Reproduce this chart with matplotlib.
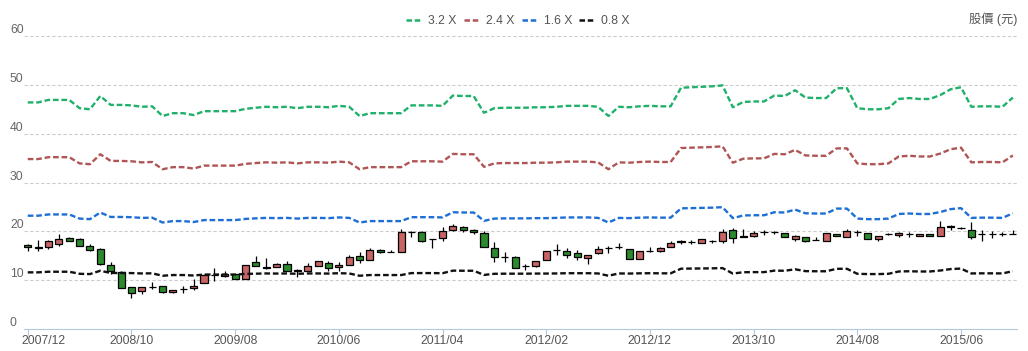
import numpy as np
import pandas as pd
import matplotlib.pyplot as plt
import matplotlib.transforms as mtransforms
from matplotlib.lines import Line2D

plt.rcParams['font.family'] = ['Liberation Sans', 'Noto Sans CJK TC', 'DejaVu Sans']

# monthly candles, 2007/12 - 2015/11
months = [p.strftime('%Y/%m') for p in pd.period_range('2007-12', periods=96, freq='M')]

opens = [17.1, 16.7, 16.7, 17.5, 18.6, 18.5, 16.9, 16.3, 13.05, 11.7,
         8.66, 7.72, 8.6, 8.74, 7.52, 8.15, 8.33, 9.35, 11.15, 10.9,
         11.26, 10.2, 13.65, 12.6, 12.64, 13.3, 12.1, 11.8, 12.84, 13.5,
         12.6, 13.05, 14.9, 14.2, 16.2, 15.8, 15.7, 19.9, 19.8, 18.45,
         18.6, 20.3, 20.95, 20.3, 19.7, 16.65, 14.75, 14.7, 12.95, 12.96,
         14.1, 16.25, 16.0, 15.55, 14.6, 15.5, 16.55, 16.75, 16.3, 14.4,
         16.05, 16.0, 16.7, 17.95, 17.8, 17.55, 18.1, 18.1, 20.2, 18.95,
         19.0, 19.9, 19.9, 19.7, 18.5, 18.9, 18.2, 18.1, 19.5, 18.9,
         19.9, 19.6, 18.4, 19.55, 19.2, 19.45, 19.05, 19.45, 19.0, 21.0,
         20.65, 20.3, 19.5, 19.45, 19.45, 19.45]
highs = [17.5, 18.2, 18.2, 19.4, 18.9, 18.6, 17.5, 16.5, 13.7, 11.8,
         8.7, 8.66, 9.7, 8.8, 8.0, 8.8, 10.2, 11.2, 12.4, 11.9,
         11.3, 13.2, 14.9, 14.5, 13.6, 13.9, 12.2, 13.5, 13.86, 14.0,
         13.8, 15.2, 15.8, 16.6, 16.3, 16.2, 20.4, 20.1, 20.0, 18.5,
         20.8, 21.6, 21.0, 20.4, 20.1, 17.9, 15.7, 14.9, 13.4, 14.0,
         16.0, 17.5, 16.6, 16.2, 15.2, 16.9, 17.0, 17.6, 16.3, 15.9,
         16.7, 16.7, 18.0, 18.3, 18.2, 18.4, 18.3, 20.4, 20.6, 20.4,
         20.0, 20.3, 20.1, 19.7, 19.2, 18.9, 18.9, 19.6, 19.5, 20.5,
         20.3, 19.6, 19.1, 19.6, 19.8, 19.8, 19.5, 19.5, 22.1, 21.3,
         20.9, 21.9, 20.2, 20.1, 19.9, 20.2]
lows = [16.0, 16.0, 16.3, 16.9, 18.0, 16.9, 16.0, 13.2, 11.2, 8.3,
        6.3, 7.23, 8.2, 7.3, 7.4, 7.3, 8.0, 9.35, 9.9, 10.6,
        10.18, 10.2, 12.8, 12.35, 12.6, 11.9, 10.7, 11.8, 12.84, 11.95,
        11.9, 13.05, 13.6, 14.2, 15.5, 15.7, 15.7, 18.8, 17.9, 16.5,
        18.0, 20.0, 19.9, 19.5, 16.7, 13.65, 13.8, 12.4, 12.0, 12.7,
        14.1, 15.15, 14.6, 14.1, 13.4, 15.4, 15.6, 16.3, 14.4, 14.4,
        15.8, 15.8, 16.7, 17.4, 17.5, 17.55, 17.6, 17.7, 17.6, 18.9,
        18.9, 19.2, 19.4, 18.8, 18.1, 17.9, 18.15, 18.1, 19.0, 18.8,
        19.0, 18.4, 18.1, 19.3, 18.9, 18.9, 19.0, 19.0, 19.0, 20.3,
        20.5, 18.4, 18.0, 18.7, 19.0, 19.45]
closes = [16.7, 16.65, 18.0, 18.4, 18.1, 16.9, 16.2, 13.25, 11.95, 8.3,
          7.43, 8.54, 8.5, 7.52, 7.99, 8.1, 8.8, 11.06, 11.1, 11.3,
          10.18, 13.2, 12.84, 12.55, 13.25, 11.9, 11.95, 12.84, 13.86, 12.55,
          13.1, 14.68, 14.1, 16.1, 15.7, 15.7, 19.9, 19.85, 18.1, 18.35,
          20.1, 21.0, 20.3, 19.8, 16.7, 14.8, 14.7, 12.4, 12.9, 13.9,
          16.0, 16.2, 15.2, 14.8, 15.1, 16.4, 16.5, 16.7, 14.4, 15.9,
          16.0, 16.65, 17.6, 17.9, 17.75, 18.4, 18.05, 19.8, 18.7, 18.9,
          19.6, 19.85, 19.85, 18.8, 19.0, 18.1, 18.15, 19.6, 19.0, 20.0,
          19.85, 18.4, 19.1, 19.4, 19.6, 19.4, 19.45, 19.05, 20.8, 20.9,
          20.6, 18.9, 19.4, 19.4, 19.4, 19.45]

# per-share base value for the bands
base = [14.50, 14.50, 14.66, 14.66, 14.66, 14.13, 14.06, 14.91, 14.34, 14.34,
        14.31, 14.22, 14.25, 13.63, 13.81, 13.81, 13.69, 13.94, 13.94, 13.94,
        13.94, 14.09, 14.16, 14.22, 14.19, 14.22, 14.13, 14.22, 14.22, 14.19,
        14.28, 14.22, 13.63, 13.81, 13.81, 13.81, 13.81, 14.31, 14.31, 14.31,
        14.28, 14.94, 14.91, 14.91, 13.84, 14.13, 14.16, 14.16, 14.16, 14.19,
        14.19, 14.22, 14.28, 14.28, 14.28, 14.22, 13.63, 14.22, 14.19, 14.25,
        14.28, 14.25, 14.25, 15.44, 15.47, 15.50, 15.53, 15.59, 14.19, 14.53,
        14.56, 14.56, 14.94, 14.91, 15.28, 14.81, 14.78, 14.78, 15.41, 15.41,
        14.13, 14.06, 14.06, 14.13, 14.72, 14.78, 14.72, 14.72, 14.97, 15.34,
        15.47, 14.22, 14.25, 14.25, 14.22, 14.81]

multiples = [3.2, 2.4, 1.6, 0.8]
band_labels = ['3.2 X', '2.4 X', '1.6 X', '0.8 X']
band_colors = ['#1fb06a', '#b05555', '#1d6fd6', '#111111']

tick_labels = ['2007/12', '2008/10', '2009/08', '2010/06', '2011/04',
               '2012/02', '2012/12', '2013/10', '2014/08', '2015/06']

fig = plt.figure(figsize=(10.28, 3.51), dpi=100)
ax = fig.add_axes([24 / 1028, 22 / 351, (1017 - 24) / 1028, (329 - 36) / 351])

x = np.arange(len(months))
o = np.array(opens); h = np.array(highs); l = np.array(lows); c = np.array(closes)

# wicks
ax.vlines(x, l, h, color='black', linewidth=0.9, zorder=2)
# bodies: red = up, green = down
up = c > o
body_col = np.where(up, '#c86464', '#2b8a2b')
bottoms = np.minimum(o, c)
heights = np.maximum(np.abs(c - o), 0.06)
ax.bar(x, heights, bottom=bottoms, width=0.68, color=body_col,
       edgecolor='black', linewidth=0.9, zorder=2.5)

# bands
for m, lab, col in zip(multiples, band_labels, band_colors):
    ax.plot(x, np.array(base) * m, color=col, linewidth=1.7,
            linestyle=(0, (2.4, 1.2)), zorder=3, label=lab)

ax.set_xlim(-0.36, 95.4)
ax.set_ylim(0, 60)

for s in ['top', 'right', 'left']:
    ax.spines[s].set_visible(False)
ax.spines['bottom'].set_color('#b4c8dc')

ax.set_yticks(range(10, 61, 10))
ax.yaxis.grid(True, linestyle=(0, (3, 2)), color='#cccccc', linewidth=0.8)
ax.tick_params(axis='y', left=False, labelleft=False)
for v in range(0, 61, 10):
    ax.annotate(str(v), xy=(0, v), xycoords=('figure fraction', 'data'),
                xytext=(10, 6), textcoords='offset pixels', ha='left', va='center',
                fontsize=8.8, color='#666666', annotation_clip=False)

tick_pos = [months.index(t) for t in tick_labels]
ax.set_xticks(tick_pos)
ax.set_xticklabels(tick_labels, fontsize=8.8, color='#555555')
ax.tick_params(axis='x', length=4, color='#b4c8dc', pad=0.5)
first = ax.get_xticklabels()[0]
first.set_horizontalalignment('left')
first.set_transform(first.get_transform() +
                    mtransforms.ScaledTranslation(-6 / 100, 0, fig.dpi_scale_trans))

handles = [Line2D([0], [0], color=col, linewidth=1.8, linestyle=(0, (2.2, 1.1)))
           for col in band_colors]
leg = fig.legend(handles, band_labels, loc='center', bbox_to_anchor=(518 / 1028, 1 - 21 / 351),
                 ncol=4, frameon=False, fontsize=8.8, handlelength=1.2,
                 handletextpad=0.6, columnspacing=0.6)
for t in leg.get_texts():
    t.set_color('#555555')

fig.text(1017 / 1028, 1 - 19 / 351, '股價 (元)', ha='right', va='center',
         fontsize=8.8, color='#555555')

fig.savefig('out.png', dpi=100)
